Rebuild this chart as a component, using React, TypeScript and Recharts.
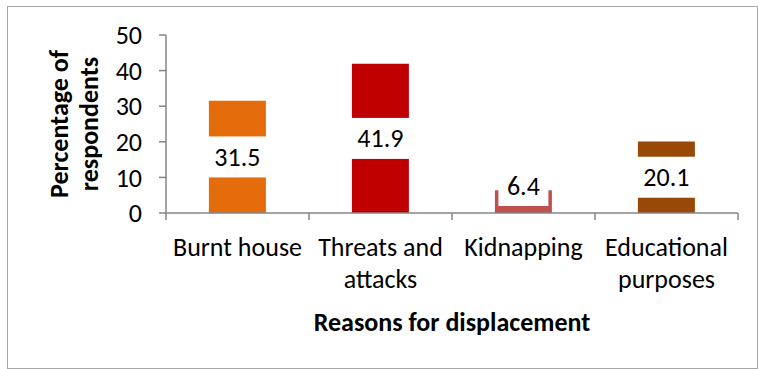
import { BarChart, Bar, Cell, XAxis, YAxis, LabelList } from "recharts";

const reasons = ["Burnt house", "Threats and attacks", "Kidnapping", "Educational purposes"];
const percentages = [31.5, 41.9, 6.4, 20.1];
const barColors = ["#E46C0A", "#C00000", "#C0504D", "#984807"];
const yTicks = [0, 10, 20, 30, 40, 50];

const data = reasons.map((reason, i) => ({ reason, value: percentages[i] }));

const FONT = "Carlito, Calibri, Lato, sans-serif";
const FS = 26;
const AXIS = "#868686";
const W = 758;
const H = 369;
const PLOT_LEFT = 166;
const PLOT_RIGHT = 20;
const BAND = (W - PLOT_LEFT - PLOT_RIGHT) / reasons.length;

// greedy word wrap, rough width estimate per char
const wrap = (label: string) => {
  const words = label.split(" ");
  const lines: string[] = [];
  let cur = "";
  words.forEach((w) => {
    const next = cur ? cur + " " + w : w;
    if (next.length * FS * 0.47 > BAND && cur) {
      lines.push(cur);
      cur = w;
    } else cur = next;
  });
  if (cur) lines.push(cur);
  return lines;
};

const CategoryTick = (props: any) => {
  const { x, y, payload, index } = props;
  const left = x - BAND / 2;
  const lines = wrap(String(payload.value));
  return (
    <g>
      <line x1={left} y1={y - 8} x2={left} y2={y - 1} stroke={AXIS} strokeWidth={1.5} />
      {index === reasons.length - 1 && (
        <line x1={x + BAND / 2} y1={y - 8} x2={x + BAND / 2} y2={y - 1} stroke={AXIS} strokeWidth={1.5} />
      )}
      <text textAnchor="middle" fontSize={FS} fontFamily={FONT} fill="#000">
        {lines.map((l, i) => (
          <tspan key={i} x={x} y={y + 35 + i * 32}>
            {l}
          </tspan>
        ))}
      </text>
    </g>
  );
};

const ValueLabel = (props: any) => {
  const { x, y, width, height, value } = props;
  const text = String(value);
  const boxW = text.length * 12 + 14;
  const boxH = 41;
  const bottom = y + height;
  let cy = y + height / 2;
  if (cy + boxH / 2 > bottom - 7) cy = bottom - 7 - boxH / 2;
  const cx = x + width / 2;
  return (
    <g>
      <rect x={cx - boxW / 2} y={cy - boxH / 2} width={boxW} height={boxH} fill="#fff" />
      <text
        x={cx}
        y={cy}
        textAnchor="middle"
        dominantBaseline="central"
        fontSize={FS}
        fontFamily={FONT}
        fill="#000"
      >
        {text}
      </text>
    </g>
  );
};

const YTitle = (props: any) => {
  const { viewBox } = props;
  const cy = viewBox.y + viewBox.height / 2;
  return (
    <g fontFamily={FONT} fontWeight="bold" fontSize={FS} fill="#000">
      <text x={59} y={cy} textAnchor="middle" dominantBaseline="central" transform={`rotate(-90 59 ${cy})`}>
        Percentage of
      </text>
      <text x={89} y={cy} textAnchor="middle" dominantBaseline="central" transform={`rotate(-90 89 ${cy})`}>
        respondents
      </text>
    </g>
  );
};

const XTitle = (props: any) => {
  const { viewBox } = props;
  const cx = viewBox.x + viewBox.width / 2;
  return (
    <text
      x={cx}
      y={322}
      textAnchor="middle"
      dominantBaseline="central"
      fontFamily={FONT}
      fontWeight="bold"
      fontSize={FS}
      fill="#000"
    >
      Reasons for displacement
    </text>
  );
};

export default function App() {
  return (
    <div style={{ position: "absolute", left: 0, top: 0, width: W, height: H, background: "#fff" }}>
      <div
        style={{
          position: "absolute",
          left: 7,
          top: 6,
          width: 749,
          height: 361,
          border: "1px solid #a6a6a6",
        }}
      />
      <BarChart
        width={W}
        height={H}
        data={data}
        margin={{ top: 35, right: PLOT_RIGHT, left: 0, bottom: 0 }}
        barCategoryGap="30%"
      >
        <XAxis
          dataKey="reason"
          height={156}
          interval={0}
          tickLine={false}
          axisLine={{ stroke: AXIS, strokeWidth: 1.5 }}
          tick={<CategoryTick />}
          label={<XTitle />}
        />
        <YAxis
          width={PLOT_LEFT}
          domain={[0, 50]}
          ticks={yTicks}
          tickSize={7}
          tickMargin={17}
          axisLine={{ stroke: AXIS, strokeWidth: 1.5 }}
          tickLine={{ stroke: AXIS, strokeWidth: 1.5 }}
          tick={{ fontSize: FS, fontFamily: FONT, fill: "#000" }}
          label={<YTitle />}
        />
        <Bar dataKey="value" isAnimationActive={false}>
          {data.map((d, i) => (
            <Cell key={d.reason} fill={barColors[i]} />
          ))}
          <LabelList dataKey="value" content={<ValueLabel />} />
        </Bar>
      </BarChart>
    </div>
  );
}
